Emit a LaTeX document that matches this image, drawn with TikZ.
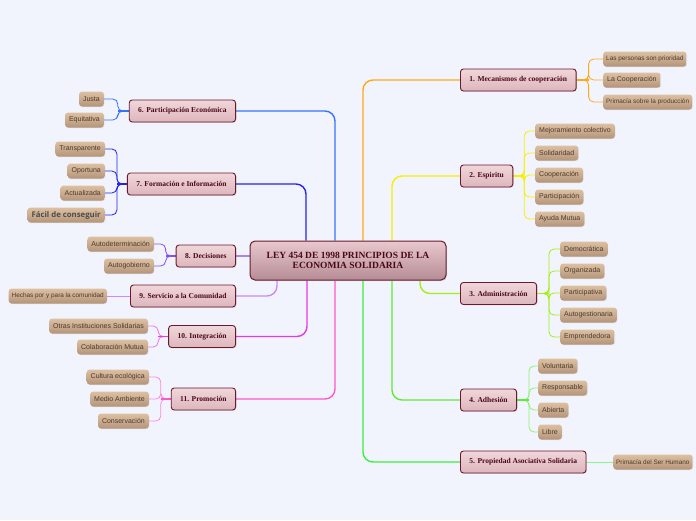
\documentclass[tikz,border=0pt]{standalone}
\usepackage{fontspec}
\setmainfont{Liberation Serif}
\newfontfamily\leaffont{Liberation Sans}
\newfontfamily\fatfont{Open Sans}
\usetikzlibrary{shadows}
\definecolor{bg}{HTML}{F2F4FD}
\definecolor{mframe}{HTML}{6A1A2C}
\definecolor{mtop}{HTML}{F0D6DA}
\definecolor{mbot}{HTML}{DDB6BD}
\definecolor{ctop}{HTML}{E9C8CE}
\definecolor{cbot}{HTML}{B58C95}
\definecolor{mtext}{HTML}{4A0816}
\definecolor{ltop}{HTML}{DDC0A2}
\definecolor{lbot}{HTML}{B5957A}
\definecolor{ltext}{HTML}{4C3B2E}
\definecolor{cA}{HTML}{FFA81A}
\definecolor{cB}{HTML}{F4F000}
\definecolor{cC}{HTML}{A4EE10}
\definecolor{cD}{HTML}{5EEA38}
\definecolor{cE}{HTML}{38F040}
\definecolor{cF}{HTML}{3672FF}
\definecolor{cG}{HTML}{2424EC}
\definecolor{cH}{HTML}{8050F8}
\definecolor{cI}{HTML}{CC88FF}
\definecolor{cJ}{HTML}{E838E8}
\definecolor{cK}{HTML}{FF58CC}
\pgfdeclarelayer{paper}
\pgfdeclarelayer{links}
\pgfsetlayers{paper,links,main}
\tikzset{
  mainbox/.style={draw=mframe, line width=0.9pt, rounded corners=3pt,
    top color=mtop, bottom color=mbot, text=mtext,
    font=\bfseries\fontsize{7.5}{8.5}\selectfont, minimum height=22pt, inner xsep=9pt,
    drop shadow={opacity=0.25, shadow xshift=0.8pt, shadow yshift=-0.8pt}},
  centralbox/.style={draw=mframe, line width=1pt, rounded corners=5pt,
    top color=ctop, bottom color=cbot, text=mtext, align=center,
    font=\bfseries\fontsize{9.5}{10.5}\selectfont, minimum width=196pt, minimum height=39pt,
    drop shadow={opacity=0.25, shadow xshift=1pt, shadow yshift=-1pt}},
  leafbox/.style={rounded corners=3pt, top color=ltop, bottom color=lbot, text=ltext,
    font=\leaffont\fontsize{7}{8}\selectfont, minimum height=15pt, inner xsep=4pt,
    drop shadow={opacity=0.2, shadow xshift=0.6pt, shadow yshift=-0.6pt}},
  edgeleaf/.style={leafbox, font=\leaffont\fontsize{6.4}{7.5}\selectfont, inner xsep=3pt},
  fatleaf/.style={leafbox, font=\fatfont\bfseries\fontsize{7.8}{8.5}\selectfont, text=black!70},
  trunk/.style={line width=1.4pt, rounded corners=10pt},
  twig/.style={line width=0.8pt, rounded corners=5pt},
  stub/.style={line width=1.6pt},
}
\begin{document}
\begin{tikzpicture}[x=1pt,y=-1pt]
\begin{pgfonlayer}{paper}
\fill[bg] (0,0) rectangle (696,520);
\end{pgfonlayer}
\useasboundingbox (0,0) rectangle (696,520);

% central
\node[centralbox] (C) at (348,260.5) {LEY 454 DE 1998 PRINCIPIOS DE LA\\ECONOMIA SOLIDARIA};

% right main nodes
\node[mainbox, anchor=west] (M1) at (460,80) {1. Mecanismos de cooperación};
\node[mainbox, anchor=west] (M2) at (460,176) {2. Espiritu};
\node[mainbox, anchor=west] (M3) at (460,293.5) {3. Administración};
\node[mainbox, anchor=west] (M4) at (460,400) {4. Adhesión};
\node[mainbox, anchor=west] (M5) at (460,462) {5. Propiedad Asociativa Solidaria};
% left main nodes
\node[mainbox, anchor=east] (M6) at (236,111) {6. Participación Económica};
\node[mainbox, anchor=east] (M7) at (236,184) {7. Formación e Información};
\node[mainbox, anchor=east] (M8) at (236,256) {8. Decisiones};
\node[mainbox, anchor=east] (M9) at (236,296) {9. Servicio a la Comunidad};
\node[mainbox, anchor=east] (M10) at (236,336.5) {10. Integración};
\node[mainbox, anchor=east] (M11) at (236,399) {11. Promoción};

% right leaves
\node[edgeleaf, anchor=west] (L1a) at (603,59) {Las personas son prioridad};
\node[leafbox, anchor=west] (L1b) at (603,80) {La Cooperación};
\node[edgeleaf, anchor=west] (L1c) at (603,102) {Primacía sobre la producción};
\node[leafbox, anchor=west] (L2a) at (535,131) {Mejoramiento colectivo};
\node[leafbox, anchor=west] (L2b) at (535,153) {Solidaridad};
\node[leafbox, anchor=west] (L2c) at (535,175) {Cooperación};
\node[leafbox, anchor=west] (L2d) at (535,197) {Participación};
\node[leafbox, anchor=west] (L2e) at (535,219) {Ayuda Mutua};
\node[leafbox, anchor=west] (L3a) at (560,249) {Democrática};
\node[leafbox, anchor=west] (L3b) at (560,271) {Organizada};
\node[leafbox, anchor=west] (L3c) at (560,293) {Participativa};
\node[leafbox, anchor=west] (L3d) at (560,315) {Autogestionaria};
\node[leafbox, anchor=west] (L3e) at (560,337) {Emprendedora};
\node[leafbox, anchor=west] (L4a) at (538,366) {Voluntaria};
\node[leafbox, anchor=west] (L4b) at (538,388) {Responsable};
\node[leafbox, anchor=west] (L4c) at (538,410) {Abierta};
\node[leafbox, anchor=west] (L4d) at (538,432) {Libre};
\node[edgeleaf, anchor=west] (L5a) at (613,462) {Primacía del Ser Humano};
% left leaves
\node[leafbox, anchor=east] (L6a) at (104,99) {Justa};
\node[leafbox, anchor=east] (L6b) at (104,120) {Equitativa};
\node[leafbox, anchor=east] (L7a) at (105,149) {Transparente};
\node[leafbox, anchor=east] (L7b) at (105,171) {Oportuna};
\node[leafbox, anchor=east] (L7c) at (105,193) {Actualizada};
\node[fatleaf, anchor=east] (L7d) at (105,215) {Fácil de conseguir};
\node[leafbox, anchor=east] (L8a) at (154,244) {Autodeterminación};
\node[leafbox, anchor=east] (L8b) at (154,266) {Autogobierno};
\node[edgeleaf, anchor=east] (L9a) at (107,296) {Hechas por y para la comunidad};
\node[leafbox, anchor=east] (L10a) at (148,326) {Otras Instituciones Solidarias};
\node[leafbox, anchor=east] (L10b) at (148,347) {Colaboración Mutua};
\node[leafbox, anchor=east] (L11a) at (149,377) {Cultura ecológica};
\node[leafbox, anchor=east] (L11b) at (149,399) {Medio Ambiente};
\node[leafbox, anchor=east] (L11c) at (149,421) {Conservación};

\begin{pgfonlayer}{links}
% trunks
\draw[trunk,cA] ([xshift=15pt]C.north) |- (M1.west);
\draw[trunk,cB] ([xshift=44pt]C.north) |- (M2.west);
\draw[trunk,cC] ([xshift=72pt]C.south) |- (M3.west);
\draw[trunk,cD] ([xshift=44pt]C.south) |- (M4.west);
\draw[trunk,cE] ([xshift=15pt]C.south) |- (M5.west);
\draw[trunk,cF] ([xshift=-13pt]C.north) |- (M6.east);
\draw[trunk,cG] ([xshift=-42pt]C.north) |- (M7.east);
\draw[trunk,cH!70!white] (C.west |- M8.east) -- (M8.east);
\draw[trunk,cI] ([xshift=-71pt]C.south) |- (M9.east);
\draw[trunk,cJ] ([xshift=-41pt]C.south) |- (M10.east);
\draw[trunk,cK] ([xshift=-13pt]C.south) |- (M11.east);
% twigs right
\foreach \l in {L1a,L1b,L1c} \draw[twig,cA] (M1.east) -- ++(12,0) |- (\l.west);
\draw[stub,cA] (M1.east) -- ++(12,0);
\foreach \l in {L2a,L2b,L2c,L2d,L2e} \draw[twig,cB] (M2.east) -- ++(11,0) |- (\l.west);
\draw[stub,cB] (M2.east) -- ++(11,0);
\foreach \l in {L3a,L3b,L3c,L3d,L3e} \draw[twig,cC] (M3.east) -- ++(12,0) |- (\l.west);
\draw[stub,cC] (M3.east) -- ++(12,0);
\foreach \l in {L4a,L4b,L4c,L4d} \draw[twig,cD!70!white] (M4.east) -- ++(12,0) |- (\l.west);
\draw[stub,cD] (M4.east) -- ++(12,0);
\draw[twig,cE!60!white] (M5.east) -- (L5a.west);
% twigs left
\foreach \l in {L6a,L6b} \draw[twig,cF] (M6.west) -- ++(-11,0) |- (\l.east);
\draw[stub,cF] (M6.west) -- ++(-11,0);
\foreach \l in {L7a,L7b,L7c,L7d} \draw[twig,cG] (M7.west) -- ++(-10,0) |- (\l.east);
\draw[stub,cG] (M7.west) -- ++(-10,0);
\foreach \l in {L8a,L8b} \draw[twig,cH] (M8.west) -- ++(-10,0) |- (\l.east);
\draw[stub,cH] (M8.west) -- ++(-10,0);
\draw[twig,cI] (M9.west) -- (L9a.east);
\foreach \l in {L10a,L10b} \draw[twig,cJ!70!white] (M10.west) -- ++(-10,0) |- (\l.east);
\draw[stub,cJ] (M10.west) -- ++(-10,0);
\foreach \l in {L11a,L11b,L11c} \draw[twig,cK!70!white] (M11.west) -- ++(-10,0) |- (\l.east);
\draw[stub,cK] (M11.west) -- ++(-10,0);
\end{pgfonlayer}
\end{tikzpicture}
\end{document}
